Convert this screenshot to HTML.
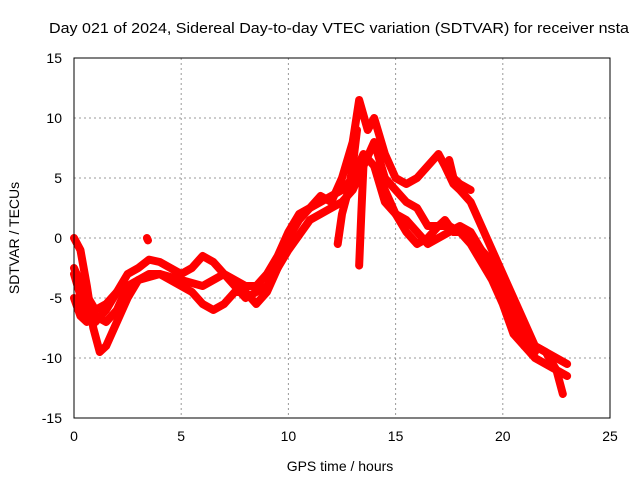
<!DOCTYPE html>
<html><head><meta charset="utf-8"><style>
body{margin:0;background:#fff}
svg{display:block;font-family:"Liberation Sans",sans-serif}
</style></head><body>
<svg id="chart" width="640" height="480">
<rect width="640" height="480" fill="#fff"/>
<text x="339" y="33" text-anchor="middle" font-size="15" textLength="580" lengthAdjust="spacingAndGlyphs">Day 021 of 2024, Sidereal Day-to-day VTEC variation (SDTVAR) for receiver nsta</text>
<text x="340" y="471" text-anchor="middle" font-size="14">GPS time / hours</text>
<text transform="translate(19,238) rotate(-90)" text-anchor="middle" font-size="14">SDTVAR / TECUs</text>
<g id="grid"></g><g id="series"></g>
<rect x="74" y="58" width="536" height="360" fill="none" stroke="#000" stroke-width="1"/>
<g id="ticks"></g>
</svg>
<script>
const xTicks=[0,5,10,15,20,25];
const yTicks=[-15,-10,-5,0,5,10,15];
const traceA=[[0,0],[0.3,-1],[0.6,-4],[0.9,-7.5],[1.2,-9.5],[1.5,-9],[2,-7],[2.5,-5],[3,-3.5],[3.5,-3],[4,-3],[4.5,-3.5],[5,-4],[5.5,-4.5],[6,-5.5],[6.5,-6],[7,-5.5],[7.5,-4.5],[8,-4.5],[8.5,-5.5],[9,-4.5],[9.5,-2.5],[10,0],[10.5,1.5],[11,2.5],[11.5,3],[12,3.5],[12.5,4],[13,5],[13.5,7],[14,6],[14.5,3],[15,2],[15.5,1.5],[16,0.5],[16.5,-0.5],[17,0],[17.5,0.5],[18,1],[18.5,0.5],[19,-1],[19.5,-3],[20,-5],[20.5,-7],[21,-9],[21.5,-10],[22,-10.5],[22.5,-11],[23,-11.5]];
const traceB=[[0,-2.5],[0.5,-4.5],[1,-6],[1.5,-5.5],[2,-4.5],[2.5,-3],[3,-2.5],[3.5,-1.8],[4,-2],[4.5,-2.5],[5,-3],[5.5,-2.5],[6,-1.5],[6.5,-2],[7,-3],[7.5,-3.5],[8,-4],[8.5,-4],[9,-3],[9.5,-1.5],[10,0.5],[10.5,2],[11,2.5],[11.5,3.5],[12,3],[12.5,5],[13,8],[13.3,11.5],[13.7,9],[14,10],[14.5,7],[15,5],[15.5,4.5],[16,5],[16.5,6],[17,7],[17.3,6],[17.7,4.5],[18,4],[18.5,3],[19,1],[19.5,-1],[20,-3],[20.5,-5],[21,-7],[21.5,-9],[22,-9.5],[22.5,-10],[23,-10.5]];
const traceC=[[0,-3],[0.5,-6],[1,-7],[1.5,-6],[2,-4.5],[2.5,-4],[3,-3.5],[4,-3],[5,-3.5],[6,-4],[7,-3],[8,-5],[9,-4],[10,-1],[11,1.5],[12,2.5],[12.5,3],[13,4],[13.5,6],[14,8],[14.5,5],[15,4],[15.5,3],[16,2.5],[16.5,1],[17,1],[17.5,1],[18,0.5],[18.5,0],[19,-1],[19.5,-2],[20,-4],[20.5,-6],[21,-8],[21.5,-9],[22,-9.5],[22.5,-11],[22.8,-13]];
const traceD=[[0,-5],[0.3,-6.5],[0.6,-7],[1,-6.5],[1.5,-7],[2,-6],[2.5,-4]];
const traceE=[[14,6],[14.5,4],[15,2],[15.5,0.5],[16,-0.5],[16.5,0],[17,1],[17.3,1.5],[17.7,0.5],[18,0.5],[18.5,-0.5],[19,-2],[19.5,-3.5],[20,-5.5],[20.5,-8],[21,-9],[21.5,-9.5]];
const traceF=[[17.5,6.5],[17.7,5],[18,4.5],[18.5,4]];
const spike1=[[12.3,-0.5],[12.5,2],[12.8,4],[13,6],[13.2,9]];
const spike2=[[13.3,-2.3],[13.4,2],[13.5,6]];
const spot=[[3.4,0],[3.45,-0.2]];
const traces=[traceA,traceB,traceC,traceD,traceE,traceF,spike1,spike2,spot];
const NS='http://www.w3.org/2000/svg';
const X=v=>74+v*21.44, Y=v=>238-v*12;
const g=document.getElementById('grid'), tk=document.getElementById('ticks'), s=document.getElementById('series');
function mk(tag,attrs,parent){const e=document.createElementNS(NS,tag);for(const k in attrs)e.setAttribute(k,attrs[k]);parent.appendChild(e);return e;}
xTicks.forEach(t=>{
 if(t>0&&t<25){const l=mk('line',{x1:X(t),x2:X(t),y1:58,y2:418,stroke:'#999','stroke-dasharray':'2,3'},g);
 
 }
 const tx=mk('text',{x:X(t),y:441,'text-anchor':'middle','font-size':14},tk);tx.textContent=t;
 
 
});
yTicks.forEach(t=>{
 if(t>-15&&t<15){const l=mk('line',{x1:74,x2:610,y1:Y(t),y2:Y(t),stroke:'#999','stroke-dasharray':'2,3'},g);
 
 }
 const tx=mk('text',{x:62,y:Y(t)+5,'text-anchor':'end','font-size':14},tk);tx.textContent=t;
 
 
});
traces.forEach((tr,i)=>{
 const p=mk('polyline',{points:tr.map(d=>X(d[0])+','+Y(d[1])).join(' '),fill:'none',stroke:'#f00','stroke-width':8,'stroke-linejoin':'round','stroke-linecap':'round'},s);
 
 
});
</script>
</body></html>
